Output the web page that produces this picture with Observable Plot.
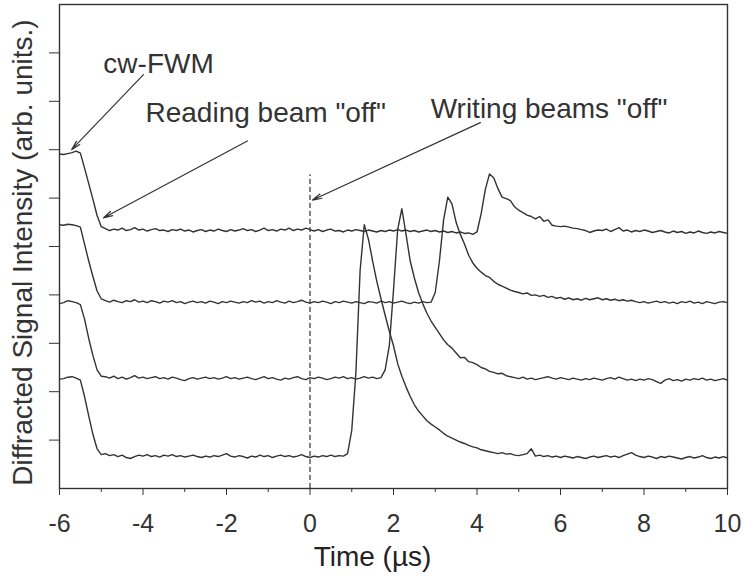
<!DOCTYPE html>
<html>
<head>
<meta charset="utf-8">
<script src="https://cdn.jsdelivr.net/npm/d3@7"></script>
<script src="https://cdn.jsdelivr.net/npm/@observablehq/plot@0.6"></script>
<style>
  html, body { margin: 0; padding: 0; background: #fff; }
  #chart svg { display: block; }
</style>
</head>
<body>
<div id="chart"></div>
<script>
const t0 = -6;
const dt = 0.1;

// Four time-resolved FWM traces, stacked with a vertical offset (arb. units)
const traceA = [
  6.91, 6.90, 6.92, 6.94, 6.97, 6.93,
  6.62, 6.30, 5.98, 5.64, 5.41,
  5.37, 5.33, 5.36, 5.34, 5.38, 5.33, 5.35, 5.39, 5.34, 5.36,
  5.32, 5.35, 5.37, 5.33, 5.34, 5.31, 5.35, 5.33, 5.36, 5.32,
  5.34, 5.30, 5.33, 5.35, 5.31, 5.34, 5.32, 5.36, 5.33, 5.31,
  5.35, 5.32, 5.34, 5.37, 5.33, 5.35, 5.31, 5.34, 5.38, 5.33,
  5.35, 5.32, 5.36, 5.34, 5.38, 5.33, 5.36, 5.34, 5.38, 5.35,
  5.32, 5.35, 5.31, 5.34, 5.36, 5.32, 5.33, 5.30, 5.34, 5.32,
  5.35, 5.33, 5.31, 5.34, 5.32, 5.30, 5.33, 5.31, 5.34, 5.32,
  5.35, 5.32, 5.34, 5.31, 5.33, 5.30, 5.32, 5.34, 5.31, 5.33,
  5.30, 5.32, 5.29, 5.31, 5.28, 5.30, 5.27, 5.28, 5.25,
  5.30, 5.68, 6.18, 6.50, 6.42, 6.20, 6.02, 5.99, 5.95, 5.82,
  5.75, 5.70, 5.65, 5.62, 5.57, 5.62, 5.52, 5.55, 5.44, 5.42,
  5.41, 5.42, 5.40, 5.38, 5.37, 5.35, 5.33, 5.29, 5.32, 5.34,
  5.33, 5.36, 5.31, 5.35, 5.39, 5.32, 5.34, 5.30, 5.33, 5.31,
  5.34, 5.32, 5.29, 5.31, 5.33, 5.30, 5.28, 5.32, 5.29, 5.31,
  5.27, 5.30, 5.28, 5.32, 5.29, 5.27, 5.30, 5.28, 5.31, 5.29,
  5.27
];

const traceB = [
  5.45, 5.44, 5.46, 5.45, 5.43, 5.40,
  5.05, 4.70, 4.38, 4.08, 3.92,
  3.88, 3.85, 3.89, 3.86, 3.84, 3.88, 3.86, 3.90, 3.85, 3.87,
  3.84, 3.88, 3.86, 3.83, 3.87, 3.85, 3.88, 3.84, 3.86, 3.82,
  3.85, 3.87, 3.84, 3.86, 3.83, 3.87, 3.85, 3.82, 3.86, 3.84,
  3.87, 3.85, 3.83, 3.86, 3.84, 3.88, 3.85, 3.87, 3.83, 3.86,
  3.84, 3.88, 3.85, 3.83, 3.87, 3.84, 3.86, 3.89, 3.85, 3.83,
  3.86, 3.84, 3.87, 3.85, 3.82, 3.86, 3.84, 3.87, 3.85, 3.83,
  3.86, 3.84, 3.82, 3.86, 3.85, 3.83, 3.87, 3.84, 3.86, 3.83,
  3.85, 3.87, 3.84, 3.82, 3.85, 3.83, 3.86, 3.84, 3.85,
  4.05, 4.70, 5.55, 6.02, 5.88, 5.50, 5.25, 5.05, 4.82, 4.66,
  4.55, 4.47, 4.40, 4.36, 4.28, 4.22, 4.18, 4.14, 4.10, 4.07,
  4.05, 4.02, 4.04, 3.99, 4.00, 3.97, 3.99, 3.95, 3.97, 3.93,
  3.95, 3.91, 3.94, 3.90, 3.92, 3.89, 3.93, 3.90, 3.92, 3.94,
  3.90, 3.92, 3.89, 3.91, 3.88, 3.90, 3.87, 3.89, 3.86, 3.84,
  3.86, 3.83, 3.85, 3.87, 3.84, 3.86, 3.83, 3.85, 3.82, 3.86,
  3.84, 3.87, 3.83, 3.85, 3.82, 3.86, 3.84, 3.82, 3.85, 3.86,
  3.84
];

const traceC = [
  3.82, 3.84, 3.88, 3.86, 3.84, 3.80,
  3.50, 3.10, 2.75, 2.45, 2.32,
  2.31, 2.28, 2.32, 2.27, 2.30, 2.26, 2.29, 2.33, 2.28, 2.30,
  2.27, 2.29, 2.31, 2.27, 2.29, 2.26, 2.30, 2.28, 2.25, 2.23,
  2.27, 2.29, 2.26, 2.28, 2.30, 2.27, 2.29, 2.26, 2.28, 2.31,
  2.27, 2.29, 2.26, 2.28, 2.30, 2.27, 2.25, 2.28, 2.31, 2.27,
  2.29, 2.26, 2.24, 2.28, 2.26, 2.29, 2.31, 2.27, 2.25, 2.29,
  2.27, 2.30, 2.28, 2.25, 2.27, 2.30, 2.28, 2.31, 2.27, 2.29,
  2.26, 2.28, 2.31, 2.28, 2.30, 2.27, 2.29,
  2.45, 2.95, 4.10, 5.35, 5.78, 5.25, 4.70, 4.35, 4.05, 3.82,
  3.62, 3.46, 3.33, 3.20, 3.07, 2.97, 2.90, 2.80, 2.70, 2.71,
  2.62, 2.60, 2.56, 2.50, 2.47, 2.42, 2.40, 2.37, 2.38, 2.33,
  2.31, 2.29, 2.27, 2.30, 2.26, 2.28, 2.25, 2.27, 2.29, 2.31,
  2.28, 2.26, 2.29, 2.27, 2.25, 2.28, 2.26, 2.24, 2.27, 2.25,
  2.28, 2.26, 2.24, 2.27, 2.29, 2.26, 2.30, 2.27, 2.24, 2.26,
  2.23, 2.26, 2.24, 2.27, 2.25, 2.21, 2.17, 2.24, 2.27, 2.23,
  2.25, 2.22, 2.26, 2.24, 2.27, 2.25, 2.28, 2.24, 2.26, 2.23,
  2.25, 2.27, 2.24
];

const traceD = [
  2.26, 2.27, 2.30, 2.31, 2.28, 2.24,
  1.90, 1.50, 1.12, 0.82, 0.70,
  0.72, 0.68, 0.70, 0.66, 0.69, 0.64, 0.62, 0.66, 0.69, 0.67,
  0.70, 0.66, 0.68, 0.65, 0.69, 0.67, 0.70, 0.66, 0.68, 0.65,
  0.67, 0.69, 0.66, 0.64, 0.67, 0.65, 0.68, 0.66, 0.69, 0.72,
  0.67, 0.65, 0.68, 0.66, 0.63, 0.67, 0.65, 0.69, 0.66, 0.68,
  0.64, 0.67, 0.69, 0.66, 0.68, 0.65, 0.67, 0.70, 0.66, 0.64,
  0.67, 0.65, 0.68, 0.66, 0.69, 0.66, 0.68, 0.67,
  0.72, 1.20, 2.40, 4.50, 5.45, 5.15, 4.70, 4.28, 3.92, 3.58,
  3.25, 2.95, 2.58, 2.32, 2.10, 1.90, 1.73, 1.60, 1.50, 1.40,
  1.33, 1.27, 1.21, 1.14, 1.08, 1.04, 1.00, 0.96, 0.93, 0.89,
  0.86, 0.84, 0.80, 0.78, 0.76, 0.74, 0.72, 0.74, 0.71, 0.72,
  0.69, 0.68, 0.70, 0.72, 0.82, 0.67, 0.69, 0.66, 0.68, 0.65,
  0.67, 0.64, 0.67, 0.65, 0.63, 0.66, 0.64, 0.62, 0.65, 0.67,
  0.64, 0.66, 0.68, 0.65, 0.67, 0.64, 0.68, 0.71, 0.74, 0.69,
  0.66, 0.64, 0.67, 0.65, 0.62, 0.66, 0.64, 0.67, 0.65, 0.63,
  0.61, 0.64, 0.66, 0.63, 0.65, 0.68, 0.64, 0.62, 0.65, 0.63,
  0.66, 0.63
];

// Axis ticks
const xMajorTicks = [-6, -4, -2, 0, 2, 4, 6, 8, 10];
const xMinorTicks = [-5, -3, -1, 1, 3, 5, 7, 9];
const yTicks = [1, 2, 3, 4, 5, 6, 7, 8, 9];

// Axis titles
const xTitle = "Time (µs)";
const yTitle = "Diffracted Signal Intensity (arb. units.)";

// Moment the writing beams are switched off, and the top of its marker
const writeOffTime = [0];
const writeOffTop = 6.48;

// Annotation texts, their anchor points and the arrows they point with
const noteText = ["cw-FWM", "Reading beam \"off\"", "Writing beams \"off\""];
const noteX = [-4.95, -3.94, 2.89];
const noteY = [8.76, 7.76, 7.83];
const arrowFromX = [-3.99, -1.50, 4.08];
const arrowFromY = [8.55, 7.18, 7.56];
const arrowToX = [-5.71, -4.95, 0.06];
const arrowToY = [7.00, 5.59, 5.96];

const traces = [traceA, traceB, traceC, traceD];
const samples = traces.flatMap((values, k) =>
  values.map((v, i) => ({t: +(t0 + i * dt).toFixed(2), v, trace: k}))
);
const notes = noteText.map((text, i) => ({text, x: noteX[i], y: noteY[i]}));
const arrows = noteText.map((_, i) => ({
  x1: arrowFromX[i], y1: arrowFromY[i], x2: arrowToX[i], y2: arrowToY[i]
}));

const ink = "#333";
const font = "'Liberation Sans', Arial, Helvetica, sans-serif";

const chart = Plot.plot({
  width: 743,
  height: 583,
  marginLeft: 59,
  marginRight: 16,
  marginTop: 4,
  marginBottom: 95,
  x: {domain: [-6, 10]},
  y: {domain: [0, 10]},
  style: {fontFamily: font, background: "#fff", color: ink},
  marks: [
    Plot.ruleX(writeOffTime, {y1: 0, y2: writeOffTop, stroke: ink, strokeWidth: 1.2, strokeDasharray: "5,3"}),
    Plot.line(samples, {x: "t", y: "v", z: "trace", stroke: ink, strokeWidth: 1.4, curve: "linear"}),
    Plot.arrow(arrows, {x1: "x1", y1: "y1", x2: "x2", y2: "y2", stroke: ink, strokeWidth: 1.2, headLength: 12, headAngle: 28}),
    Plot.text(notes, {x: "x", y: "y", text: "text", textAnchor: "start", fontSize: 28, fill: ink}),
    Plot.axisX(xMajorTicks, {tickSize: 7, tickPadding: 19, fontSize: 25, tickFormat: (d) => String(d), label: null, stroke: ink, fill: ink}),
    Plot.axisX(xMinorTicks, {tickSize: 4, tickFormat: () => "", label: null, stroke: ink}),
    Plot.axisY(yTicks, {tickSize: 10, tickFormat: () => "", label: null, stroke: ink}),
    Plot.frame({stroke: ink, strokeWidth: 1.4}),
    Plot.text([xTitle], {frameAnchor: "bottom", textAnchor: "middle", dx: -21, dy: 77, fontSize: 28, fill: "#222"}),
    Plot.text([yTitle], {frameAnchor: "left", textAnchor: "middle", rotate: -90, dx: -36, dy: 6, fontSize: 28, fill: ink})
  ]
});

document.getElementById("chart").append(chart);
</script>
</body>
</html>
